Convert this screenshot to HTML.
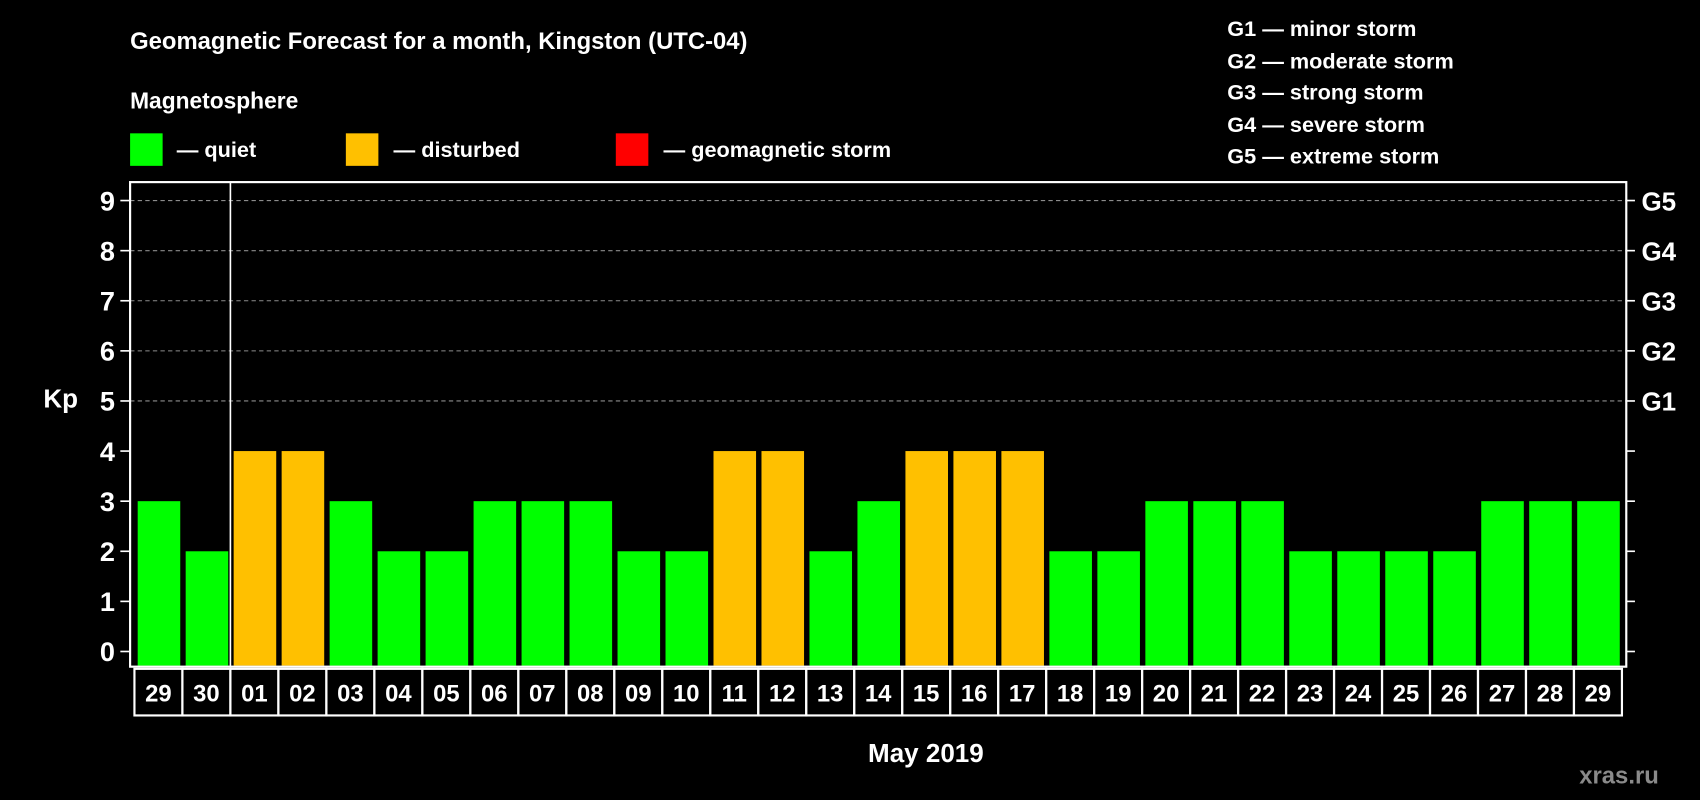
<!DOCTYPE html>
<html><head><meta charset="utf-8"><style>
html,body{margin:0;padding:0;background:#000;width:1700px;height:800px;overflow:hidden}
svg{display:block}
text{font-family:"Liberation Sans",Arial,sans-serif;font-weight:bold;fill:#fff}
</style></head><body>
<svg id="chart" width="1700" height="800" viewBox="0 0 1568 738" preserveAspectRatio="none">
<text x="120" y="45" font-size="22">Geomagnetic Forecast for a month, Kingston (UTC-04)</text>
<text x="120" y="100" font-size="21">Magnetosphere</text>
<g><rect x="120" y="123" width="30" height="30" fill="#00ff00"/><text x="163" y="145" font-size="20">— quiet</text></g>
<g><rect x="319" y="123" width="30" height="30" fill="#ffc000"/><text x="363" y="145" font-size="20">— disturbed</text></g>
<g><rect x="568" y="123" width="30" height="30" fill="#ff0000"/><text x="612" y="145" font-size="20">— geomagnetic storm</text></g>
<g font-size="20">
<text x="1132" y="33">G1 — minor storm</text>
<text x="1132" y="63">G2 — moderate storm</text>
<text x="1132" y="92">G3 — strong storm</text>
<text x="1132" y="122">G4 — severe storm</text>
<text x="1132" y="151">G5 — extreme storm</text>
</g>
<text x="40" y="376" font-size="24">Kp</text>
<text x="854" y="703" font-size="24" text-anchor="middle">May 2019</text>
<text x="1530" y="723" font-size="22" text-anchor="end" style="fill:#8a8a8a">xras.ru</text>
<g id="plot"></g>
</svg>
<script>
const days=["29","30","01","02","03","04","05","06","07","08","09","10","11","12","13","14","15","16","17","18","19","20","21","22","23","24","25","26","27","28","29"];
const kpValues=[3,2,4,4,3,2,2,3,3,3,2,2,4,4,2,3,4,4,4,2,2,3,3,3,2,2,2,2,3,3,3];
const yTicks=[0,1,2,3,4,5,6,7,8,9];
const gLabels=["G1","G2","G3","G4","G5"];
const NS="http://www.w3.org/2000/svg";
const plot=document.getElementById('plot');
const L=120,R=1500,T=168,B=615,X0=124,X1=1496;
const y=v=>601-v*(601-185)/9;
const step=(X1-X0)/days.length;
const x=i=>X0+i*step;
function mk(tag,attrs,parent){const e=document.createElementNS(NS,tag);for(const k in attrs)e.setAttribute(k,attrs[k]);(parent||plot).appendChild(e);return e;}
// grid
yTicks.forEach(v=>{
  if(v>=5){const g=mk('line',{x1:L,x2:R,y1:y(v),y2:y(v),stroke:'#8c8c8c','stroke-dasharray':'4,3','stroke-width':1});
  
  }
  const t=mk('line',{x1:111,x2:L,y1:y(v),y2:y(v),stroke:'#fff','stroke-width':1.5});
  
  
  const t2=mk('line',{x1:R,x2:1508,y1:y(v),y2:y(v),stroke:'#fff','stroke-width':1.5});
  
  
  const lb=mk('text',{x:106,y:y(v)+9,'font-size':25,'text-anchor':'end'});
  lb.textContent=v;
  
  
});
gLabels.forEach((g,i)=>{
  const lb=mk('text',{x:1514,y:y(5+i)+9,'font-size':24});
  lb.textContent=g;
  
  
});
// bars
kpValues.forEach((v,i)=>{
  const c=v>=5?'#ff0000':(v>=4?'#ffc000':'#00ff00');
  const b=mk('rect',{x:x(i)+3,y:y(v),width:step-5,height:B-y(v)-1,fill:c});
  
  
});
// frame
const fr=mk('rect',{x:L,y:T,width:R-L,height:B-T,fill:'none',stroke:'#fff','stroke-width':2});


const sep=mk('line',{x1:x(2),x2:x(2),y1:T,y2:B,stroke:'#fff','stroke-width':1.5});


// day boxes
days.forEach((d,i)=>{
  const r=mk('rect',{x:x(i),y:617,width:step,height:43,fill:'none',stroke:'#fff','stroke-width':2});
  
  
  const t=mk('text',{x:x(i)+step/2,y:647,'font-size':22,'text-anchor':'middle'});
  t.textContent=d;
  
  
});
</script>
</body></html>
